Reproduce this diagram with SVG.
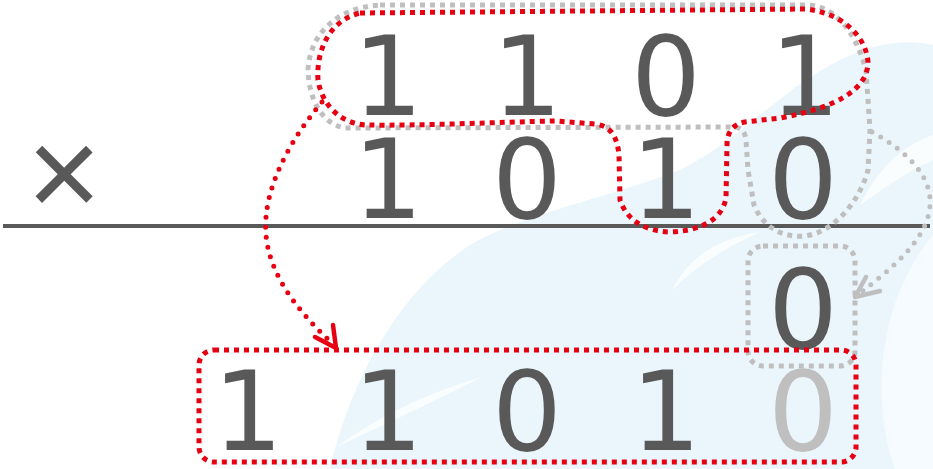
<svg xmlns="http://www.w3.org/2000/svg" width="933" height="469" viewBox="0 0 933 469">
<defs>
<style>
.d{font-family:"DejaVu Sans","Noto Sans",sans-serif;font-size:110px;fill:#595959;text-anchor:middle}
.lg{fill:#bfbfbf}
.rs{fill:none;stroke:#e60012;stroke-width:5;stroke-dasharray:5 5}
.gs{fill:none;stroke:#bfbfbf;stroke-width:5;stroke-dasharray:5 5}
.rr{fill:none;stroke:#e60012;stroke-width:5;stroke-linecap:round;stroke-dasharray:0 10}
.gr{fill:none;stroke:#bfbfbf;stroke-width:5;stroke-linecap:round;stroke-dasharray:0 10}
.ra{fill:none;stroke:#e60012;stroke-width:4.5;stroke-linecap:round;stroke-linejoin:round}
.ga{fill:none;stroke:#bfbfbf;stroke-width:4.5;stroke-linecap:round;stroke-linejoin:round}
</style>
</defs>
<rect width="933" height="469" fill="#ffffff"/>
<g id="background">
<path d="M330 469 C350 380 400 290 470 245 C520 215 600 200 680 170 C740 140 780 90 840 60 C880 40 910 40 933 45 L933 469 Z" fill="#ebf6fc"/>
<path d="M336 447 C380 415 430 392 482 377 C440 398 395 420 336 447 Z" fill="#f9fdfe"/>
<path d="M672 290 C690 255 720 238 760 232 C720 250 695 268 672 290 Z" fill="#f9fdfe"/>
<path d="M895 469 C870 400 878 300 933 235 L933 469 Z" fill="#f5fbfe"/>
<path d="M860 205 C880 165 905 145 933 135 L933 160 C905 172 885 188 860 205 Z" fill="#f9fdfe"/>
</g>
<g id="rule">
<line x1="3" y1="226" x2="930" y2="226" stroke="#595959" stroke-width="4"/>
</g>
<g id="row1">
<text class="d" x="388" y="115">1</text>
<text class="d" x="527" y="115">1</text>
<text class="d" x="666" y="115">0</text>
<text class="d" x="805" y="115">1</text>
</g>
<g id="row2">
<text x="64" y="217" style="font-family:'Liberation Sans',Arial,sans-serif;font-size:128px;fill:#595959;text-anchor:middle">×</text>
<text class="d" x="388" y="218">1</text>
<text class="d" x="527" y="218">0</text>
<text class="d" x="666" y="218">1</text>
<text class="d" x="803" y="218">0</text>
</g>
<g id="row3">
<text class="d" x="803" y="348">0</text>
</g>
<g id="row4">
<text class="d" x="248" y="450">1</text>
<text class="d" x="388" y="450">1</text>
<text class="d" x="527" y="450">0</text>
<text class="d" x="666" y="450">1</text>
<text class="d lg" x="803" y="450">0</text>
</g>
<g id="outlines">
<path class="gs" d="M380 5 L810 5 C835 8 855 30 866 70 L870 130 L868 170 C860 200 835 232 805 236 C780 238 762 225 754 205 L748 170 L746 140 C745 132 742 128 735 127 L345 128 C322 124 309 100 308 70 C310 35 335 8 380 5 Z"/>
<path class="rs" d="M360 13 L805 9 C840 12 866 35 868 62 C868 90 835 108 780 118 L745 122 C733 124 727 132 727 145 L726 198 C722 220 700 231 670 232 C642 231 626 218 620 200 L619 155 C617 135 610 126 595 124 L555 121 C500 122 420 126 365 125 C340 123 322 105 318 80 C316 50 330 20 360 13 Z"/>
<rect class="gs" x="748" y="246" width="107" height="120" rx="15"/>
<rect class="rs" x="199" y="350" width="657" height="112" rx="15"/>
</g>
<g id="connectors">
<path class="rr" d="M322 102 C290 140 262 190 266 235 C270 280 305 318 332 343"/>
<path class="ra" d="M315 337 L336 348 L333 325"/>
<path class="gr" d="M872 132 C905 150 932 175 930 205 C928 240 890 270 860 293"/>
<path class="ga" d="M866 277 L855 297 L880 291"/>
</g>
</svg>
